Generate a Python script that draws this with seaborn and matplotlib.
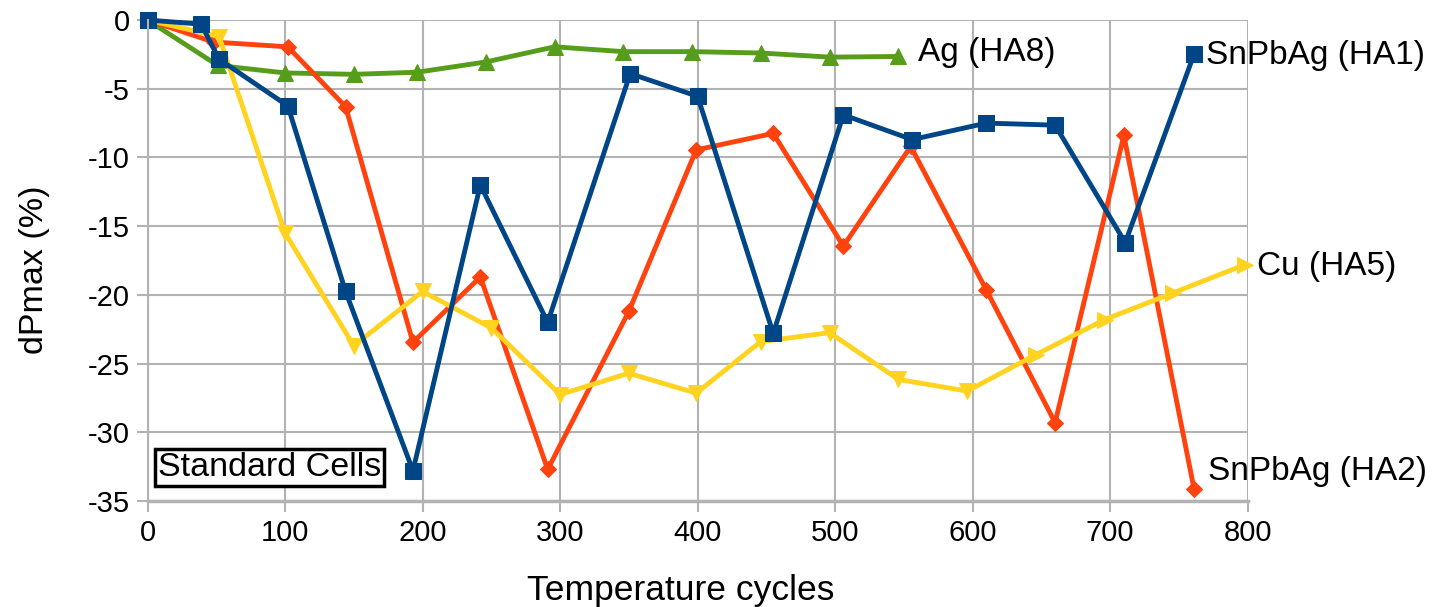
import numpy as np
import pandas as pd
import matplotlib
matplotlib.use("Agg")
import matplotlib.pyplot as plt
import seaborn as sns

# Ag (HA8)
ag_x = [0, 51, 100, 150, 196, 246, 296, 346, 396, 446, 496, 546]
ag_y = [0, -3.3, -3.85, -3.95, -3.8, -3.05, -1.95, -2.3, -2.3, -2.4, -2.7, -2.65]

# SnPbAg (HA1)
ha1_x = [0, 39, 52, 102, 144, 193, 242, 291, 351, 400, 455, 506, 556, 610, 660, 711, 761]
ha1_y = [0, -0.3, -2.85, -6.25, -19.75, -32.8, -12.0, -22.0, -3.9, -5.55, -22.8, -6.9,
         -8.7, -7.5, -7.65, -16.2, -2.5]

# SnPbAg (HA2)
ha2_x = [0, 48, 102, 144, 193, 242, 291, 350, 399, 455, 506, 555, 610, 660, 710, 761]
ha2_y = [0, -1.6, -1.95, -6.3, -23.45, -18.7, -32.7, -21.2, -9.45, -8.25, -16.45, -9.2,
         -19.65, -29.3, -8.4, -34.1]

# Cu (HA5)
cu_x = [0, 52, 100, 150, 200, 250, 300, 350, 399, 446, 496, 546, 596, 646, 696, 746, 798]
cu_y = [0, -1.2, -15.5, -23.7, -19.75, -22.4, -27.25, -25.7, -27.15, -23.4, -22.75, -26.15,
        -27.0, -24.35, -21.8, -19.85, -17.8]

x_ticks = [0, 100, 200, 300, 400, 500, 600, 700, 800]
y_ticks = [0, -5, -10, -15, -20, -25, -30, -35]

sns.set_style("whitegrid", {"grid.color": "#b3b3b3", "axes.edgecolor": "#b3b3b3",
                            "text.color": "black", "axes.labelcolor": "black",
                            "xtick.color": "black", "ytick.color": "black"})
plt.rcParams['font.family'] = ['Liberation Sans', 'DejaVu Sans']
plt.rcParams['axes.unicode_minus'] = False

fig = plt.figure(figsize=(14.41, 6.07), dpi=100)
ax = fig.add_axes([0.1024, 0.1746, 0.7634, 0.7924])

lw = 3.5
series = [
    (ag_x, ag_y, "#579d1c", "^", 12),
    (ha2_x, ha2_y, "#ff420e", "D", 8.5),
    (cu_x, cu_y, "#ffd320", "v", 12),
    (ha1_x, ha1_y, "#004586", "s", 11.5),
]
for xs, ys, col, mk, ms in series:
    df = pd.DataFrame({"x": xs, "y": ys})
    if mk == "v":
        # first part with down triangles, last points with right arrows
        sns.lineplot(data=df, x="x", y="y", color=col, lw=lw, marker=mk, ms=ms,
                     mec=col, markevery=list(range(13)), ax=ax, sort=False)
        sns.lineplot(data=df.iloc[13:], x="x", y="y", color=col, lw=0, marker=">",
                     ms=ms, mec=col, ax=ax, sort=False)
    else:
        sns.lineplot(data=df, x="x", y="y", color=col, lw=lw, marker=mk, ms=ms,
                     mec=col, ax=ax, sort=False)

for a in ax.lines:
    a.set_clip_on(False)

ax.set_xlim(0, 800)
ax.set_ylim(-35, 0)
ax.set_xticks(x_ticks)
ax.set_yticks(y_ticks)
ax.tick_params(axis="both", labelsize=21, length=8, width=1.5, color="#b3b3b3",
               labelcolor="black", direction="out", pad=5, left=True, bottom=True)
ax.grid(True, color="#b3b3b3", lw=1.5)
for s in ["top", "right"]:
    ax.spines[s].set_visible(False)
ax.spines["left"].set_color("#b3b3b3")
ax.spines["left"].set_linewidth(1.5)
ax.spines["bottom"].set_color("#b3b3b3")
ax.spines["bottom"].set_linewidth(2.5)

ax.set_xlabel("Temperature cycles", fontsize=25.5, color="black")
ax.set_ylabel("dPmax (%)", fontsize=24.5, color="black")
ax.xaxis.set_label_coords(0.485, -0.152)
ax.yaxis.set_label_coords(-0.089, 0.48)

ax.text(560, -2.35, "Ag (HA8)", fontsize=24, ha="left", va="center", clip_on=False)
ax.text(770, -2.55, "SnPbAg (HA1)", fontsize=24, ha="left", va="center", clip_on=False)
ax.text(807, -17.95, "Cu (HA5)", fontsize=24, ha="left", va="center", clip_on=False)
ax.text(771, -32.85, "SnPbAg (HA2)", fontsize=24, ha="left", va="center", clip_on=False)

ax.text(0.0095, 0.07, "Standard Cells", transform=ax.transAxes, fontsize=24.5,
        ha="left", va="center",
        bbox=dict(boxstyle="square,pad=0.08", fc="white", ec="black", lw=2.5))

fig.savefig("out.png", dpi=100)
